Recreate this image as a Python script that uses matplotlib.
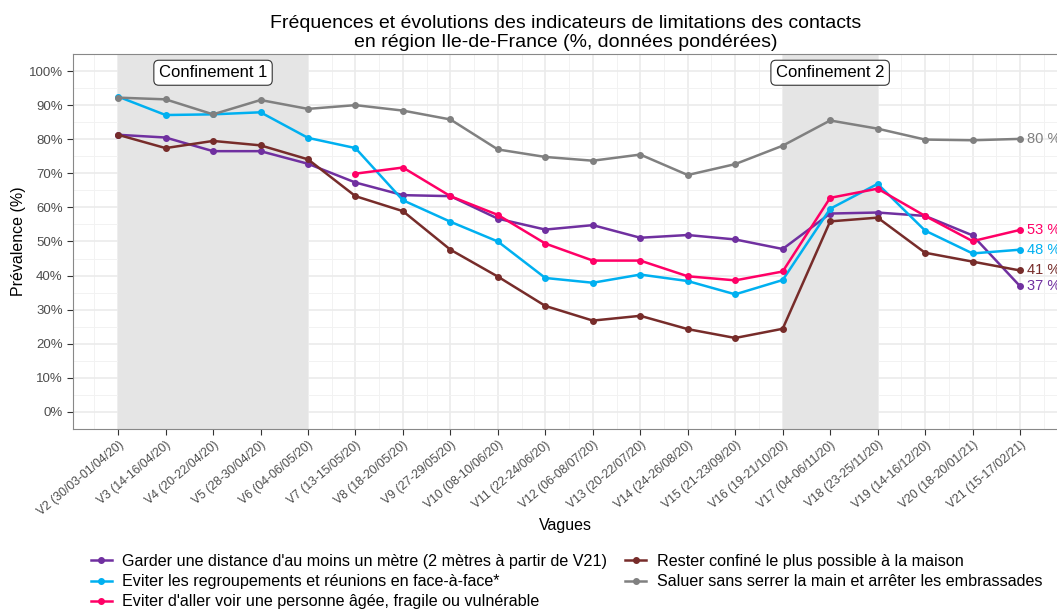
import numpy as np
import matplotlib.pyplot as plt
from matplotlib.ticker import MultipleLocator, FuncFormatter

plt.rcParams['font.family'] = ['Liberation Sans', 'DejaVu Sans']

waves = np.arange(2, 22)
wave_labels = ['V2 (30/03-01/04/20)', 'V3 (14-16/04/20)', 'V4 (20-22/04/20)',
               'V5 (28-30/04/20)', 'V6 (04-06/05/20)', 'V7 (13-15/05/20)',
               'V8 (18-20/05/20)', 'V9 (27-29/05/20)', 'V10 (08-10/06/20)',
               'V11 (22-24/06/20)', 'V12 (06-08/07/20)', 'V13 (20-22/07/20)',
               'V14 (24-26/08/20)', 'V15 (21-23/09/20)', 'V16 (19-21/10/20)',
               'V17 (04-06/11/20)', 'V18 (23-25/11/20)', 'V19 (14-16/12/20)',
               'V20 (18-20/01/21)', 'V21 (15-17/02/21)']

distance = [81.3, 80.5, 76.5, 76.5, 72.8, 67.3, 63.6, 63.3, 56.7, 53.5,
            54.8, 51.1, 51.9, 50.6, 47.8, 58.2, 58.5, 57.5, 51.8, 36.9]
regroupements = [92.5, 87.1, 87.3, 87.9, 80.4, 77.4, 62.1, 55.8, 50.0, 39.3,
                 37.9, 40.3, 38.4, 34.5, 38.7, 59.6, 66.9, 53.2, 46.5, 47.6]
personne_agee = [np.nan, np.nan, np.nan, np.nan, np.nan, 69.9, 71.7, 63.3, 57.8, 49.4,
                 44.4, 44.4, 39.8, 38.6, 41.2, 62.8, 65.5, 57.5, 50.1, 53.4]
confine = [81.3, 77.4, 79.5, 78.2, 74.1, 63.3, 58.9, 47.6, 39.7, 31.1,
           26.8, 28.2, 24.3, 21.7, 24.4, 55.9, 57.0, 46.7, 44.1, 41.5]
saluer = [92.2, 91.7, 87.3, 91.5, 88.9, 90.0, 88.4, 85.8, 77.0, 74.8,
          73.7, 75.5, 69.5, 72.7, 78.1, 85.5, 83.1, 79.9, 79.7, 80.1]

series = [
    ("Garder une distance d'au moins un mètre (2 mètres à partir de V21)", distance, '#7030A0'),
    ("Eviter les regroupements et réunions en face-à-face*", regroupements, '#00B0F0'),
    ("Eviter d'aller voir une personne âgée, fragile ou vulnérable", personne_agee, '#FF0066'),
    ("Rester confiné le plus possible à la maison", confine, '#772C2A'),
    ("Saluer sans serrer la main et arrêter les embrassades", saluer, '#808080'),
]
end_labels = ['37 %', '48 %', '53 %', '41 %', '80 %']

fig = plt.figure(figsize=(10.57, 6.09), dpi=100)
ax = fig.add_axes([73 / 1057, 180 / 609, 985 / 1057, 375 / 609])

# periodes de confinement
ax.axvspan(2, 6, color='#E5E5E5', zorder=1, lw=0)
ax.axvspan(16, 18, color='#E5E5E5', zorder=1, lw=0)

handles = []
for (name, vals, col), lab in zip(series, end_labels):
    h, = ax.plot(waves, vals, color=col, lw=1.8, marker='o', ms=4, zorder=3, label=name)
    handles.append(h)
    ax.text(21.15, vals[-1], lab, color=col, fontsize=10.5, va='center', ha='left', clip_on=False)

box = dict(boxstyle='round,pad=0.3', fc='white', ec='#333333', lw=0.8)
ax.text(4, 99.5, 'Confinement 1', ha='center', va='center', fontsize=12, bbox=box, zorder=4)
ax.text(17, 99.5, 'Confinement 2', ha='center', va='center', fontsize=12, bbox=box, zorder=4)

ax.set_xlim(1.05, 21.8)
ax.set_ylim(-5, 105)
ax.set_xticks(waves)
ax.set_xticklabels(wave_labels, rotation=40, ha='right', rotation_mode='anchor',
                   fontsize=8.8, color='#4D4D4D')
ax.xaxis.set_minor_locator(MultipleLocator(0.5))
ax.yaxis.set_major_locator(MultipleLocator(10))
ax.yaxis.set_minor_locator(MultipleLocator(5))
ax.yaxis.set_major_formatter(FuncFormatter(lambda v, p: '%d%%' % v))
ax.tick_params(axis='y', labelsize=9.5, labelcolor='#4D4D4D', color='#333333', length=4)
ax.tick_params(axis='x', color='#333333', length=4, pad=3)
ax.tick_params(which='minor', length=0)

ax.set_axisbelow(True)
ax.grid(which='major', color='#EBEBEB', lw=1.2, zorder=0)
ax.grid(which='minor', color='#F2F2F2', lw=0.7, zorder=0)
for s in ax.spines.values():
    s.set_color('#888888')
    s.set_zorder(5)

ax.set_xlabel('Vagues', fontsize=11.5, labelpad=0)
ax.set_ylabel('Prévalence (%)', fontsize=11.5, labelpad=2)
ax.set_title('Fréquences et évolutions des indicateurs de limitations des contacts\n'
             'en région Ile-de-France (%, données pondérées)', fontsize=14, pad=5,
             linespacing=1.12)

fig.legend(handles=handles, ncol=2, loc='upper left', bbox_to_anchor=(91 / 1057, 1 - 554 / 609),
           frameon=False, fontsize=11.6, handlelength=1.3, handletextpad=0.65,
           columnspacing=1.1, labelspacing=0.32, borderaxespad=0, borderpad=0)

fig.savefig('out.png', dpi=100)
